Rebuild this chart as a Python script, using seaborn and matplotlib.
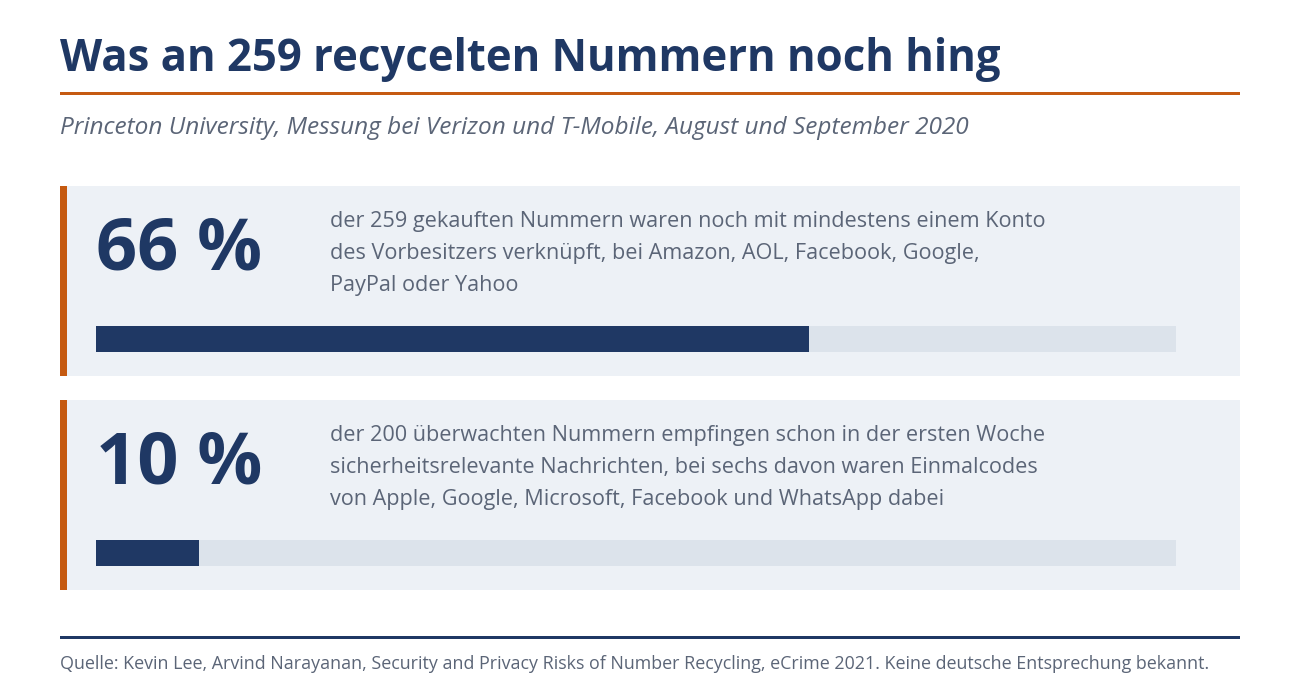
import matplotlib
matplotlib.use("Agg")
import matplotlib.pyplot as plt
import seaborn as sns
from matplotlib.patches import Rectangle

# ---------------- data ----------------
titel = "Was an 259 recycelten Nummern noch hing"
untertitel = "Princeton University, Messung bei Verizon und T-Mobile, August und September 2020"
anteile = [66.0, 9.5]          # Balkenlänge in Prozent
anteil_labels = ["66 %", "10 %"]
beschreibungen = [
    ["der 259 gekauften Nummern waren noch mit mindestens einem Konto",
     "des Vorbesitzers verknüpft, bei Amazon, AOL, Facebook, Google,",
     "PayPal oder Yahoo"],
    ["der 200 überwachten Nummern empfingen schon in der ersten Woche",
     "sicherheitsrelevante Nachrichten, bei sechs davon waren Einmalcodes",
     "von Apple, Google, Microsoft, Facebook und WhatsApp dabei"],
]
quelle = ("Quelle: Kevin Lee, Arvind Narayanan, Security and Privacy Risks of Number "
          "Recycling, eCrime 2021. Keine deutsche Entsprechung bekannt.")

# ---------------- style ----------------
NAVY = "#1f3864"
ORANGE = "#c55a11"
PANEL = "#edf1f6"
TRACK = "#dce3eb"
GRAU = "#5b6577"

sns.set_theme(style="white")
plt.rcParams["font.family"] = ["Open Sans", "DejaVu Sans"]

W, H = 1300, 700
fig = plt.figure(figsize=(13, 7), dpi=100)
fig.patch.set_facecolor("white")


def fx(x):
    return x / W


def fy(y):
    return 1 - y / H


# Kopf
fig.text(fx(60), fy(71), titel, fontsize=31.4, fontweight="bold", color=NAVY, va="baseline")
fig.add_artist(Rectangle((fx(60), fy(95)), fx(1180), 3 / H, transform=fig.transFigure,
                         color=ORANGE, lw=0))
fig.text(fx(60), fy(134), untertitel, fontsize=17.6, style="italic", color=GRAU, va="baseline")

# Panels
panel_top = [186, 400]
for i, top in enumerate(panel_top):
    fig.add_artist(Rectangle((fx(60), fy(top + 190)), fx(1180), 190 / H,
                             transform=fig.transFigure, color=PANEL, lw=0, zorder=0))
    fig.add_artist(Rectangle((fx(60), fy(top + 190)), fx(7), 190 / H,
                             transform=fig.transFigure, color=ORANGE, lw=0, zorder=1))
    fig.text(fx(96), fy(top + 84), anteil_labels[i], fontsize=52, fontweight="bold",
             color=NAVY, va="baseline")
    for k, zeile in enumerate(beschreibungen[i]):
        fig.text(fx(330), fy(top + 41 + 32 * k), zeile, fontsize=15.6, color=GRAU,
                 va="baseline")

    ax = fig.add_axes([fx(96), fy(top + 166), fx(1080), 26 / H])
    sns.barplot(x=[100], y=[0], orient="h", color=TRACK, width=1, ax=ax,
                saturation=1, linewidth=0, edgecolor="none")
    sns.barplot(x=[anteile[i]], y=[0], orient="h", color=NAVY, width=1, ax=ax,
                saturation=1, linewidth=0, edgecolor="none")
    ax.set_xlim(0, 100)
    ax.set_ylim(0.5, -0.5)
    ax.axis("off")

# Fuss
fig.add_artist(Rectangle((fx(60), fy(639)), fx(1180), 3 / H, transform=fig.transFigure,
                         color=NAVY, lw=0))
fig.text(fx(60), fy(669), quelle, fontsize=12.85, color=GRAU, va="baseline")

fig.savefig("out.png", dpi=100, facecolor="white")
